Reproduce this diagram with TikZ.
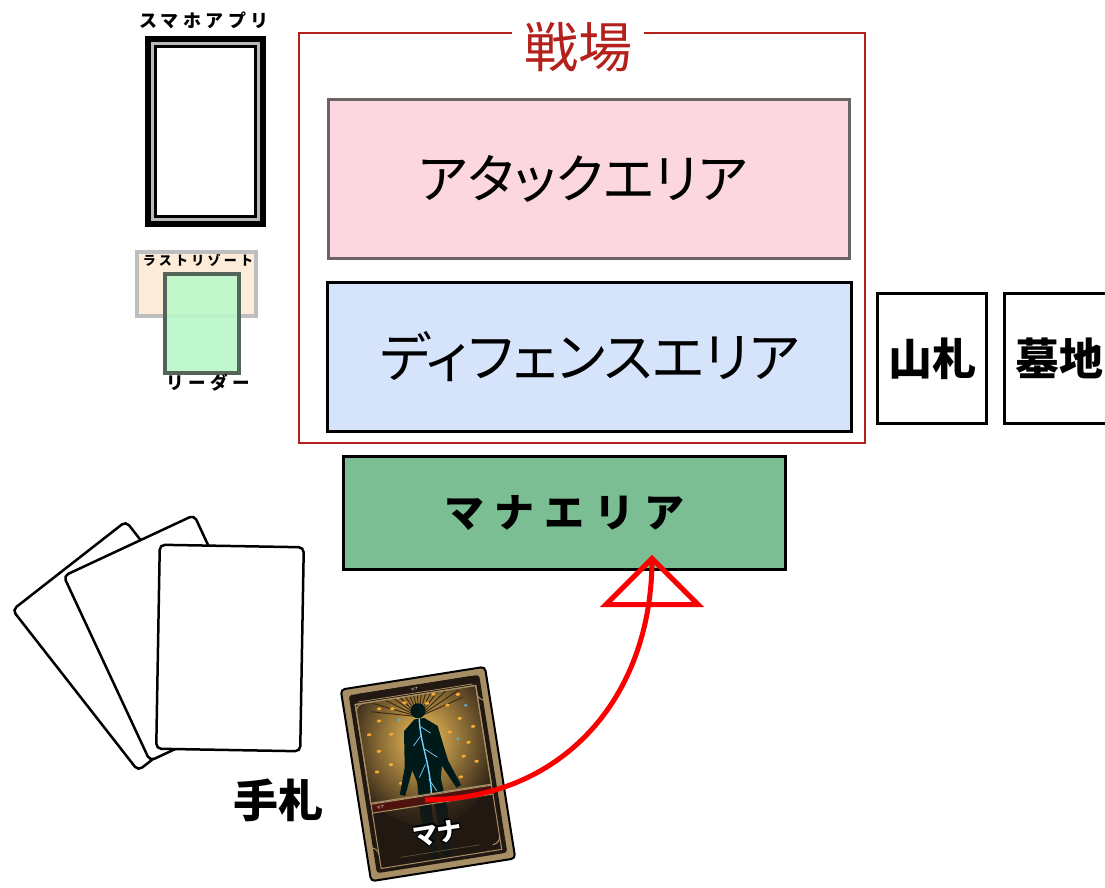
\documentclass[tikz,border=0pt]{standalone}
\usepackage{fontspec}
\setmainfont{Noto Sans CJK JP}[RawFeature=+palt]
\newfontfamily\lsfont{Noto Sans CJK JP}[LetterSpace=25]
\usepackage{pgf,tikz}
\usetikzlibrary{calc}

\definecolor{battle}{RGB}{180,32,28}
\definecolor{atkpink}{RGB}{253,215,224}
\definecolor{atkgray}{RGB}{106,100,100}
\definecolor{defblue}{RGB}{214,228,251}
\definecolor{managreen}{RGB}{124,190,148}
\definecolor{peach}{RGB}{253,236,218}
\definecolor{lrgray}{RGB}{190,190,190}
\definecolor{leader}{RGB}{186,248,200}
\definecolor{leadgray}{RGB}{85,100,90}
\definecolor{cardgold}{RGB}{168,142,100}
\definecolor{carddark}{RGB}{34,24,18}
\definecolor{glow}{RGB}{246,196,90}
\definecolor{spark}{RGB}{245,170,50}
\definecolor{vein}{RGB}{120,210,255}
\definecolor{arrowred}{RGB}{250,0,0}

% white letters with a black rim
\newcommand\outlined[1]{{\setbox0=\hbox{\color{black}#1}%
  \rlap{\kern-1.6pt\copy0}\rlap{\kern1.6pt\copy0}%
  \rlap{\raise1.6pt\copy0}\rlap{\lower1.6pt\copy0}%
  \rlap{\kern-1.1pt\raise1.1pt\copy0}\rlap{\kern1.1pt\raise1.1pt\copy0}%
  \rlap{\kern-1.1pt\lower1.1pt\copy0}\rlap{\kern1.1pt\lower1.1pt\copy0}%
  \textcolor{white}{#1}}}

\tikzset{
  area/.style={draw, line width=3pt, inner sep=0pt},
  pile/.style={draw, fill=white, line width=3pt, minimum width=109pt, minimum height=130pt,
    font=\bfseries\fontsize{44}{44}\selectfont},
  handcard/.style={draw, fill=white, line width=2.5pt, rounded corners=5pt,
    minimum width=144pt, minimum height=204pt},
}

\begin{document}
\begin{tikzpicture}[x=1pt,y=-1pt]
\useasboundingbox (0,0) rectangle (1105,888);
\fill[white] (0,0) rectangle (1105,888);

% smartphone app
\fill[black] (145,36) rectangle (266,227);
\fill[gray!55] (151,42) rectangle (260,221);
\fill[black] (154,45) rectangle (257,218);
\fill[white] (157,48) rectangle (254,215);
\node[font=\lsfont\bfseries\fontsize{18}{18}\selectfont] (app) at (204,20) {スマホアプリ};

% last resort and leader
\node[draw=lrgray, fill=peach, line width=4pt, minimum width=119pt, minimum height=64pt] (resort) at (196.5,284) {};
\node[font=\lsfont\bfseries\fontsize{13}{13}\selectfont] (resortlbl) at (198,260) {ラストリゾート};
\node[draw=leadgray, fill=leader, fill opacity=.9, line width=3.5pt, minimum width=74pt, minimum height=99pt] (leader) at (202,323.5) {};
\node[font=\lsfont\bfseries\fontsize{17.5}{17.5}\selectfont] (leaderlbl) at (208,383) {リーダー};

% battlefield
\draw[battle, line width=2pt] (299,33) rectangle (865,443);
\node[fill=white, text=battle, font=\fontsize{54}{54}\selectfont, inner xsep=12pt, inner ysep=0pt] (field) at (578,47) {戦場};
\node[area, draw=atkgray, fill=atkpink, minimum width=521pt, minimum height=159pt,
  font=\fontsize{53}{53}\selectfont] (attack) at (589,179) {\hspace*{-12pt}アタックエリア};
\node[area, fill=defblue, minimum width=524pt, minimum height=149pt,
  font=\fontsize{54}{54}\selectfont] (defence) at (589.5,357) {ディフェンスエリア};
\node[pile] (deck) at (932,358.5) {山札};
\node[pile] (grave) at (1059,358.5) {墓地};

% mana area
\node[area, fill=managreen, minimum width=442pt, minimum height=113pt,
  font=\lsfont\bfseries\fontsize{40}{40}\selectfont] (mana) at (564.5,513) {マナエリア};

% hand
\foreach \cx/\cy/\ang [count=\i] in {132/646/38, 172/638/25, 230/648/-1}
  \node[handcard, rotate=\ang] (hand\i) at (\cx,\cy) {};
\node[font=\bfseries\fontsize{45}{45}\selectfont] (handlbl) at (278,800) {手札};

% mana card
\begin{scope}[shift={(428,774)}, rotate=9, transform shape]
  \node[draw=black, line width=2pt, fill=cardgold, rounded corners=4pt,
    minimum width=146pt, minimum height=194pt] (manacard) at (0,0) {};
  \fill[carddark, rounded corners=3pt] (-66,-90) rectangle (66,90);
  \begin{scope}
    \clip (-61,-80) rectangle (61,86);
    \shade[inner color=glow, outer color=carddark] (0,-38) ellipse (76 and 90);
    \foreach \a in {195,205,...,345}
      \draw[black!70!brown, line width=.9pt] (0,-58) -- ++(\a:48);
    \foreach \px/\py in {-40/-60, -30/-45, -45/-30, -25/-70, 30/-65, 40/-50, 28/-38, 45/-25,
        -50/-10, 50/-5, -35/-15, 38/-12, -18/-80, 18/-78, -52/-48, 52/-40, -28/5, 32/8,
        -12/-74, 10/-70, -38/-72, 42/-74}
      \fill[spark] (\px,\py) ellipse (2.2 and 1.5);
    \foreach \px/\py in {-20/-58, 35/-30, 48/-62}
      \fill[vein!70!teal] (\px,\py) circle (1.6);
    \fill[black!80!teal] (0,-64) circle (7.5);
    \fill[black!80!teal] (-5,-56) -- (5,-56) -- (17,-46) -- (22,-10) -- (31,16) -- (26,18)
      -- (15,-6) -- (12,6) -- (14,40) -- (9,88) -- (3,88) -- (2,40) -- (0,16) -- (-2,40)
      -- (-3,88) -- (-9,88) -- (-14,40) -- (-12,6) -- (-15,-6) -- (-26,18) -- (-31,16)
      -- (-22,-10) -- (-17,-46) -- cycle;
    \draw[vein, line width=1.4pt] (0,-56) .. controls (-3,-30) and (4,-10) .. (0,22);
    \draw[vein, line width=.7pt] (0,-40) -- (-10,-30) (1,-25) -- (12,-15) (-1,-10) -- (-9,2)
      (0,-48) -- (9,-40) (0,5) -- (6,18);
  \end{scope}
  \draw[cardgold, line width=1.2pt] (-61,-80) rectangle (61,20);
  \fill[carddark] (-58,-90) rectangle (58,-82);
  \draw[cardgold, line width=.8pt] (-58,-82) -- (58,-82);
  \node[text=white, font=\fontsize{4}{4}\selectfont, inner sep=0pt] (cardtitle) at (0,-86) {マナ};
  \fill[carddark!80!red] (-61,21) rectangle (61,30);
  \draw[cardgold, line width=1pt] (-61,21) -- (61,21) (-61,30) -- (61,30);
  \node[text=white, font=\fontsize{4}{4}\selectfont, inner sep=0pt] (cardtype) at (-52,25.5) {マナ};
  \fill[carddark, opacity=.55] (-61,31) rectangle (61,86);
  \draw[cardgold, line width=1pt] (-61,-80) rectangle (61,86);
  \foreach \sx/\sy in {-1/-1, 1/-1, -1/1, 1/1}
    \draw[cardgold, line width=1pt] (\sx*61,\sy*72) arc[start angle=90-90*\sy, delta angle=90*\sx*\sy, radius=8];
  \draw[cardgold!60!black, line width=.6pt] (-40,78) -- (40,78);
  \node[font=\bfseries\fontsize{25}{25}\selectfont] (mananame) at (0,60) {\outlined{マナ}};
  \coordinate (manamark) at (-7,25);
\end{scope}

% move to mana area
\coordinate (tip) at ($(mana.south)+(87.5,-12.5)$);
\draw[arrowred, line width=5pt] (manamark) .. controls (560,800) and (652,700) .. (tip);
\draw[arrowred, line width=5pt, line join=miter] (tip) -- ++(-46,46) -- ++(92,0) -- cycle;
\end{tikzpicture}
\end{document}
